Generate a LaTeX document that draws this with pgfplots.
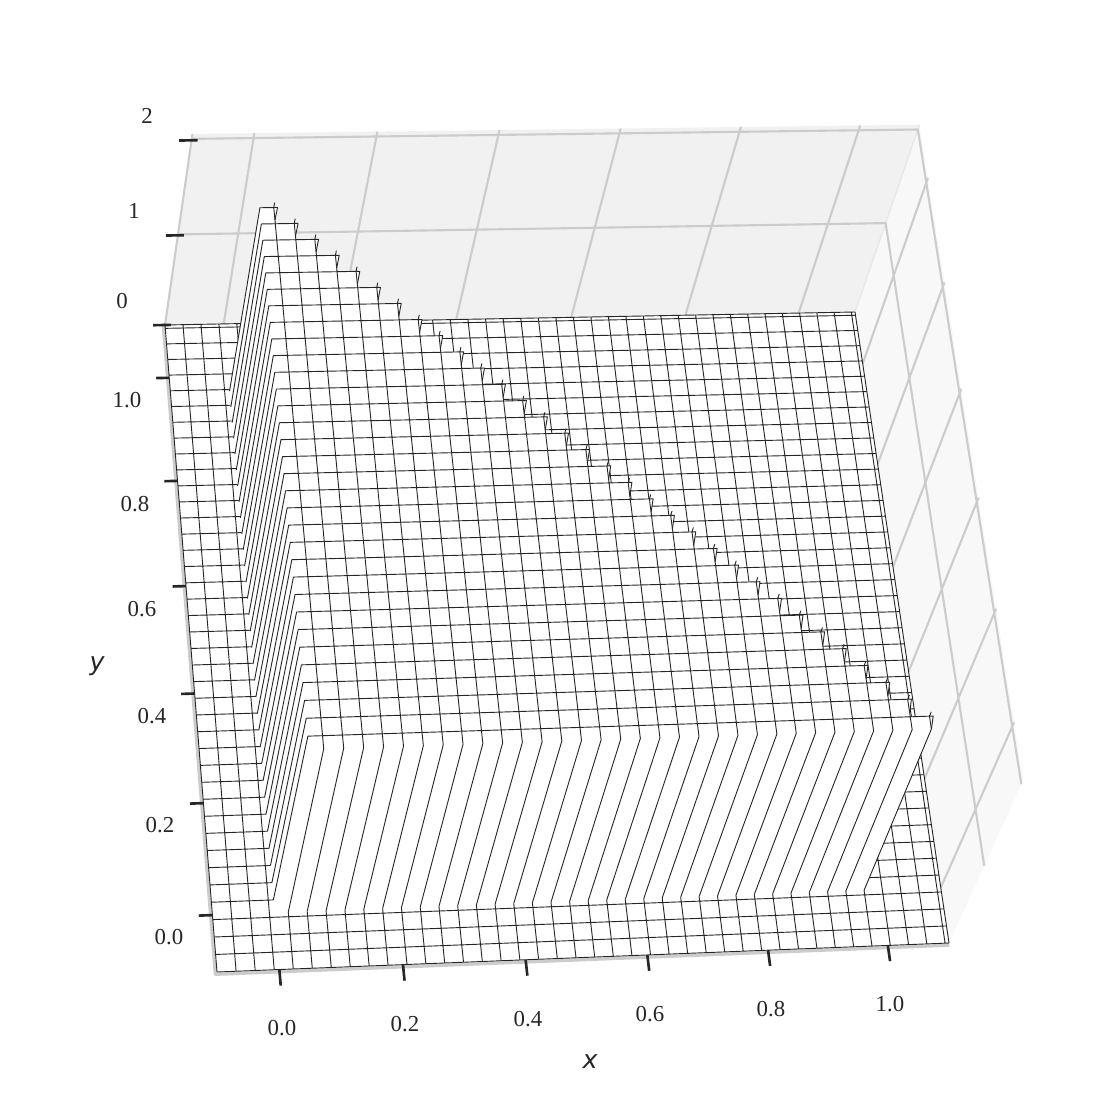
\documentclass[border=0pt]{standalone}
\usepackage{fontspec}
\setmainfont{Liberation Serif}
\newfontfamily\labelfont[ItalicFont=DejaVu Sans Oblique]{DejaVu Sans}
\usepackage{pgfplots}
\usepackage{pgfplotstable}
\pgfplotsset{compat=1.18}

\definecolor{meshc}{HTML}{262626}
\definecolor{gridc}{HTML}{CCCCCC}
\definecolor{paneback}{HTML}{F1F1F1}
\definecolor{paneright}{HTML}{F8F8F8}
\definecolor{paneedge}{HTML}{E8E8E8}

\tikzset{
  ticklab/.style={font=\fontsize{6.5}{7.5}\selectfont, text=meshc, inner sep=0pt},
  axlab/.style={font=\labelfont\itshape\fontsize{7.2}{8.5}\selectfont, text=meshc, inner sep=0pt}
}

% all tables hold x y z of the chart, projection to the page is in proj below
\pgfplotstableread[row sep=\\]{x y z\\
-0.1 1.1 0\\ 1.1 1.1 0\\ 1.1 1.1 2.05\\ -0.1 1.1 2.05\\
}\paneback
\pgfplotstableread[row sep=\\]{x y z\\
1.1 1.1 0\\ 1.1 -0.1 0\\ 1.1 -0.1 2.05\\ 1.1 1.1 2.05\\
}\paneright
\pgfplotstableread[row sep=\\]{x y z\\
1.1 1.1 0\\ 1.1 1.1 2.05\\
}\paneseam
\pgfplotstableread[row sep=\\]{x y z\\
-0.1 1.1 1\\ 1.1 1.1 1\\ 1.1 -0.1 1\\ nan nan nan\\
-0.1 1.1 2\\ 1.1 1.1 2\\ 1.1 -0.1 2\\ nan nan nan\\
0 1.1 0\\ 0 1.1 2.05\\ nan nan nan\\
0.2 1.1 0\\ 0.2 1.1 2.05\\ nan nan nan\\
0.4 1.1 0\\ 0.4 1.1 2.05\\ nan nan nan\\
0.6 1.1 0\\ 0.6 1.1 2.05\\ nan nan nan\\
0.8 1.1 0\\ 0.8 1.1 2.05\\ nan nan nan\\
1 1.1 0\\ 1 1.1 2.05\\ nan nan nan\\
1.1 -0.0003 0\\ 1.1 -0.0003 2.05\\ nan nan nan\\
1.1 0.199 0\\ 1.1 0.199 2.05\\ nan nan nan\\
1.1 0.3983 0\\ 1.1 0.3983 2.05\\ nan nan nan\\
1.1 0.5977 0\\ 1.1 0.5977 2.05\\ nan nan nan\\
1.1 0.797 0\\ 1.1 0.797 2.05\\ nan nan nan\\
1.1 0.9963 0\\ 1.1 0.9963 2.05\\ nan nan nan\\
-0.1 1.1 0\\ -0.1 1.1 2.05\\ nan nan nan\\
}\gridlines
\pgfplotstableread[row sep=\\]{x y z\\
-0.1 -0.1 0\\ 1.1 -0.1 0\\ 1.1 1.1 0\\ -0.1 1.1 0\\
}\floorarea
\pgfplotstableread[row sep=\\]{x y z\\
-0.103 1.1 0\\ -0.103 -0.104 0\\ 1.1 -0.104 0\\
}\flooredge

% floor grid, each value once along x and once along y
\pgfplotstableread[row sep=\\]{x y z\\
-0.1 -0.1 0\\ -0.1 1.1 0\\ nan nan nan\\ -0.1 -0.1 0\\ 1.1 -0.1 0\\ nan nan nan\\
-0.0694 -0.1 0\\ -0.0694 1.1 0\\ nan nan nan\\ -0.1 -0.0694 0\\ 1.1 -0.0694 0\\ nan nan nan\\
-0.0388 -0.1 0\\ -0.0388 1.1 0\\ nan nan nan\\ -0.1 -0.0388 0\\ 1.1 -0.0388 0\\ nan nan nan\\
-0.0082 -0.1 0\\ -0.0082 1.1 0\\ nan nan nan\\ -0.1 -0.0082 0\\ 1.1 -0.0082 0\\ nan nan nan\\
0.0224 -0.1 0\\ 0.0224 1.1 0\\ nan nan nan\\ -0.1 0.0224 0\\ 1.1 0.0224 0\\ nan nan nan\\
0.0530 -0.1 0\\ 0.0530 1.1 0\\ nan nan nan\\ -0.1 0.0530 0\\ 1.1 0.0530 0\\ nan nan nan\\
0.0836 -0.1 0\\ 0.0836 1.1 0\\ nan nan nan\\ -0.1 0.0836 0\\ 1.1 0.0836 0\\ nan nan nan\\
0.1142 -0.1 0\\ 0.1142 1.1 0\\ nan nan nan\\ -0.1 0.1142 0\\ 1.1 0.1142 0\\ nan nan nan\\
0.1448 -0.1 0\\ 0.1448 1.1 0\\ nan nan nan\\ -0.1 0.1448 0\\ 1.1 0.1448 0\\ nan nan nan\\
0.1754 -0.1 0\\ 0.1754 1.1 0\\ nan nan nan\\ -0.1 0.1754 0\\ 1.1 0.1754 0\\ nan nan nan\\
0.2060 -0.1 0\\ 0.2060 1.1 0\\ nan nan nan\\ -0.1 0.2060 0\\ 1.1 0.2060 0\\ nan nan nan\\
0.2366 -0.1 0\\ 0.2366 1.1 0\\ nan nan nan\\ -0.1 0.2366 0\\ 1.1 0.2366 0\\ nan nan nan\\
0.2672 -0.1 0\\ 0.2672 1.1 0\\ nan nan nan\\ -0.1 0.2672 0\\ 1.1 0.2672 0\\ nan nan nan\\
0.2978 -0.1 0\\ 0.2978 1.1 0\\ nan nan nan\\ -0.1 0.2978 0\\ 1.1 0.2978 0\\ nan nan nan\\
0.3284 -0.1 0\\ 0.3284 1.1 0\\ nan nan nan\\ -0.1 0.3284 0\\ 1.1 0.3284 0\\ nan nan nan\\
0.3590 -0.1 0\\ 0.3590 1.1 0\\ nan nan nan\\ -0.1 0.3590 0\\ 1.1 0.3590 0\\ nan nan nan\\
0.3896 -0.1 0\\ 0.3896 1.1 0\\ nan nan nan\\ -0.1 0.3896 0\\ 1.1 0.3896 0\\ nan nan nan\\
0.4202 -0.1 0\\ 0.4202 1.1 0\\ nan nan nan\\ -0.1 0.4202 0\\ 1.1 0.4202 0\\ nan nan nan\\
0.4508 -0.1 0\\ 0.4508 1.1 0\\ nan nan nan\\ -0.1 0.4508 0\\ 1.1 0.4508 0\\ nan nan nan\\
0.4814 -0.1 0\\ 0.4814 1.1 0\\ nan nan nan\\ -0.1 0.4814 0\\ 1.1 0.4814 0\\ nan nan nan\\
0.5120 -0.1 0\\ 0.5120 1.1 0\\ nan nan nan\\ -0.1 0.5120 0\\ 1.1 0.5120 0\\ nan nan nan\\
0.5426 -0.1 0\\ 0.5426 1.1 0\\ nan nan nan\\ -0.1 0.5426 0\\ 1.1 0.5426 0\\ nan nan nan\\
0.5732 -0.1 0\\ 0.5732 1.1 0\\ nan nan nan\\ -0.1 0.5732 0\\ 1.1 0.5732 0\\ nan nan nan\\
0.6038 -0.1 0\\ 0.6038 1.1 0\\ nan nan nan\\ -0.1 0.6038 0\\ 1.1 0.6038 0\\ nan nan nan\\
0.6344 -0.1 0\\ 0.6344 1.1 0\\ nan nan nan\\ -0.1 0.6344 0\\ 1.1 0.6344 0\\ nan nan nan\\
0.6650 -0.1 0\\ 0.6650 1.1 0\\ nan nan nan\\ -0.1 0.6650 0\\ 1.1 0.6650 0\\ nan nan nan\\
0.6956 -0.1 0\\ 0.6956 1.1 0\\ nan nan nan\\ -0.1 0.6956 0\\ 1.1 0.6956 0\\ nan nan nan\\
0.7262 -0.1 0\\ 0.7262 1.1 0\\ nan nan nan\\ -0.1 0.7262 0\\ 1.1 0.7262 0\\ nan nan nan\\
0.7568 -0.1 0\\ 0.7568 1.1 0\\ nan nan nan\\ -0.1 0.7568 0\\ 1.1 0.7568 0\\ nan nan nan\\
0.7874 -0.1 0\\ 0.7874 1.1 0\\ nan nan nan\\ -0.1 0.7874 0\\ 1.1 0.7874 0\\ nan nan nan\\
0.8180 -0.1 0\\ 0.8180 1.1 0\\ nan nan nan\\ -0.1 0.8180 0\\ 1.1 0.8180 0\\ nan nan nan\\
0.8486 -0.1 0\\ 0.8486 1.1 0\\ nan nan nan\\ -0.1 0.8486 0\\ 1.1 0.8486 0\\ nan nan nan\\
0.8792 -0.1 0\\ 0.8792 1.1 0\\ nan nan nan\\ -0.1 0.8792 0\\ 1.1 0.8792 0\\ nan nan nan\\
0.9098 -0.1 0\\ 0.9098 1.1 0\\ nan nan nan\\ -0.1 0.9098 0\\ 1.1 0.9098 0\\ nan nan nan\\
0.9404 -0.1 0\\ 0.9404 1.1 0\\ nan nan nan\\ -0.1 0.9404 0\\ 1.1 0.9404 0\\ nan nan nan\\
0.9710 -0.1 0\\ 0.9710 1.1 0\\ nan nan nan\\ -0.1 0.9710 0\\ 1.1 0.9710 0\\ nan nan nan\\
1.0016 -0.1 0\\ 1.0016 1.1 0\\ nan nan nan\\ -0.1 1.0016 0\\ 1.1 1.0016 0\\ nan nan nan\\
1.0322 -0.1 0\\ 1.0322 1.1 0\\ nan nan nan\\ -0.1 1.0322 0\\ 1.1 1.0322 0\\ nan nan nan\\
1.0628 -0.1 0\\ 1.0628 1.1 0\\ nan nan nan\\ -0.1 1.0628 0\\ 1.1 1.0628 0\\ nan nan nan\\
1.0934 -0.1 0\\ 1.0934 1.1 0\\ nan nan nan\\ -0.1 1.0934 0\\ 1.1 1.0934 0\\ nan nan nan\\
1.1 -0.1 0\\ 1.1 1.1 0\\ nan nan nan\\ -0.1 1.1 0\\ 1.1 1.1 0\\ nan nan nan\\
}\floorgrid

% outline of the raised part at z=2: walls, then the staircase towards the corner
\pgfplotstableread[row sep=\\]{x y z\\
0 0 0\\ 0.9710 0 0\\ 0.9710 0 2\\
0.9710 0 2\\ 0.9770 0.0224 2\\ 0.9710 0.0224 2\\ 0.9404 0.0224 2\\
0.9404 0.0291 2\\ 0.9464 0.0530 2\\ 0.9404 0.0530 2\\ 0.9098 0.0530 2\\
0.9098 0.0597 2\\ 0.9158 0.0836 2\\ 0.9098 0.0836 2\\ 0.8792 0.0836 2\\
0.8792 0.0903 2\\ 0.8852 0.1142 2\\ 0.8792 0.1142 2\\ 0.8486 0.1142 2\\
0.8486 0.1209 2\\ 0.8546 0.1448 2\\ 0.8486 0.1448 2\\ 0.8180 0.1448 2\\
0.8180 0.1515 2\\ 0.8240 0.1754 2\\ 0.8180 0.1754 2\\ 0.7874 0.1754 2\\
0.7874 0.1821 2\\ 0.7934 0.2060 2\\ 0.7874 0.2060 2\\ 0.7568 0.2060 2\\
0.7568 0.2127 2\\ 0.7628 0.2366 2\\ 0.7568 0.2366 2\\ 0.7262 0.2366 2\\
0.7262 0.2433 2\\ 0.7322 0.2672 2\\ 0.7262 0.2672 2\\ 0.6956 0.2672 2\\
0.6956 0.2739 2\\ 0.7016 0.2978 2\\ 0.6956 0.2978 2\\ 0.6650 0.2978 2\\
0.6650 0.3045 2\\ 0.6710 0.3284 2\\ 0.6650 0.3284 2\\ 0.6344 0.3284 2\\
0.6344 0.3351 2\\ 0.6404 0.3590 2\\ 0.6344 0.3590 2\\ 0.6038 0.3590 2\\
0.6038 0.3657 2\\ 0.6098 0.3896 2\\ 0.6038 0.3896 2\\ 0.5732 0.3896 2\\
0.5732 0.3963 2\\ 0.5792 0.4202 2\\ 0.5732 0.4202 2\\ 0.5426 0.4202 2\\
0.5426 0.4269 2\\ 0.5486 0.4508 2\\ 0.5426 0.4508 2\\ 0.5120 0.4508 2\\
0.5120 0.4575 2\\ 0.5180 0.4814 2\\ 0.5120 0.4814 2\\ 0.4814 0.4814 2\\
0.4814 0.4881 2\\ 0.4874 0.5120 2\\ 0.4814 0.5120 2\\ 0.4508 0.5120 2\\
0.4508 0.5187 2\\ 0.4568 0.5426 2\\ 0.4508 0.5426 2\\ 0.4202 0.5426 2\\
0.4202 0.5493 2\\ 0.4262 0.5732 2\\ 0.4202 0.5732 2\\ 0.3896 0.5732 2\\
0.3896 0.5799 2\\ 0.3956 0.6038 2\\ 0.3896 0.6038 2\\ 0.3590 0.6038 2\\
0.3590 0.6105 2\\ 0.3650 0.6344 2\\ 0.3590 0.6344 2\\ 0.3284 0.6344 2\\
0.3284 0.6411 2\\ 0.3344 0.6650 2\\ 0.3284 0.6650 2\\ 0.2978 0.6650 2\\
0.2978 0.6717 2\\ 0.3038 0.6956 2\\ 0.2978 0.6956 2\\ 0.2672 0.6956 2\\
0.2672 0.7023 2\\ 0.2732 0.7262 2\\ 0.2672 0.7262 2\\ 0.2366 0.7262 2\\
0.2366 0.7329 2\\ 0.2426 0.7568 2\\ 0.2366 0.7568 2\\ 0.2060 0.7568 2\\
0.2060 0.7635 2\\ 0.2120 0.7874 2\\ 0.2060 0.7874 2\\ 0.1754 0.7874 2\\
0.1754 0.7941 2\\ 0.1814 0.8180 2\\ 0.1754 0.8180 2\\ 0.1448 0.8180 2\\
0.1448 0.8247 2\\ 0.1508 0.8486 2\\ 0.1448 0.8486 2\\ 0.1142 0.8486 2\\
0.1142 0.8553 2\\ 0.1202 0.8792 2\\ 0.1142 0.8792 2\\ 0.0836 0.8792 2\\
0.0836 0.8859 2\\ 0.0896 0.9098 2\\ 0.0836 0.9098 2\\ 0.0530 0.9098 2\\
0.0530 0.9165 2\\ 0.0590 0.9404 2\\ 0.0530 0.9404 2\\ 0.0224 0.9404 2\\
0.0224 0.9471 2\\ 0.0284 0.9710 2\\ 0.0224 0.9710 2\\ 0 0.9710 2\\
0 0.9710 0\\
}\raised

% mesh lines of the raised part: up the front wall, along the top, back and down the left wall
\pgfplotstableread[row sep=\\]{x y z\\
0.0224 0 0\\ 0.0224 0 2\\ 0.0224 0.9710 2\\ 0 0.9710 2\\ 0 0.9710 0\\ nan nan nan\\
0.0530 0 0\\ 0.0530 0 2\\ 0.0530 0.9404 2\\ 0 0.9404 2\\ 0 0.9404 0\\ nan nan nan\\
0.0836 0 0\\ 0.0836 0 2\\ 0.0836 0.9098 2\\ 0 0.9098 2\\ 0 0.9098 0\\ nan nan nan\\
0.1142 0 0\\ 0.1142 0 2\\ 0.1142 0.8792 2\\ 0 0.8792 2\\ 0 0.8792 0\\ nan nan nan\\
0.1448 0 0\\ 0.1448 0 2\\ 0.1448 0.8486 2\\ 0 0.8486 2\\ 0 0.8486 0\\ nan nan nan\\
0.1754 0 0\\ 0.1754 0 2\\ 0.1754 0.8180 2\\ 0 0.8180 2\\ 0 0.8180 0\\ nan nan nan\\
0.2060 0 0\\ 0.2060 0 2\\ 0.2060 0.7874 2\\ 0 0.7874 2\\ 0 0.7874 0\\ nan nan nan\\
0.2366 0 0\\ 0.2366 0 2\\ 0.2366 0.7568 2\\ 0 0.7568 2\\ 0 0.7568 0\\ nan nan nan\\
0.2672 0 0\\ 0.2672 0 2\\ 0.2672 0.7262 2\\ 0 0.7262 2\\ 0 0.7262 0\\ nan nan nan\\
0.2978 0 0\\ 0.2978 0 2\\ 0.2978 0.6956 2\\ 0 0.6956 2\\ 0 0.6956 0\\ nan nan nan\\
0.3284 0 0\\ 0.3284 0 2\\ 0.3284 0.6650 2\\ 0 0.6650 2\\ 0 0.6650 0\\ nan nan nan\\
0.3590 0 0\\ 0.3590 0 2\\ 0.3590 0.6344 2\\ 0 0.6344 2\\ 0 0.6344 0\\ nan nan nan\\
0.3896 0 0\\ 0.3896 0 2\\ 0.3896 0.6038 2\\ 0 0.6038 2\\ 0 0.6038 0\\ nan nan nan\\
0.4202 0 0\\ 0.4202 0 2\\ 0.4202 0.5732 2\\ 0 0.5732 2\\ 0 0.5732 0\\ nan nan nan\\
0.4508 0 0\\ 0.4508 0 2\\ 0.4508 0.5426 2\\ 0 0.5426 2\\ 0 0.5426 0\\ nan nan nan\\
0.4814 0 0\\ 0.4814 0 2\\ 0.4814 0.5120 2\\ 0 0.5120 2\\ 0 0.5120 0\\ nan nan nan\\
0.5120 0 0\\ 0.5120 0 2\\ 0.5120 0.4814 2\\ 0 0.4814 2\\ 0 0.4814 0\\ nan nan nan\\
0.5426 0 0\\ 0.5426 0 2\\ 0.5426 0.4508 2\\ 0 0.4508 2\\ 0 0.4508 0\\ nan nan nan\\
0.5732 0 0\\ 0.5732 0 2\\ 0.5732 0.4202 2\\ 0 0.4202 2\\ 0 0.4202 0\\ nan nan nan\\
0.6038 0 0\\ 0.6038 0 2\\ 0.6038 0.3896 2\\ 0 0.3896 2\\ 0 0.3896 0\\ nan nan nan\\
0.6344 0 0\\ 0.6344 0 2\\ 0.6344 0.3590 2\\ 0 0.3590 2\\ 0 0.3590 0\\ nan nan nan\\
0.6650 0 0\\ 0.6650 0 2\\ 0.6650 0.3284 2\\ 0 0.3284 2\\ 0 0.3284 0\\ nan nan nan\\
0.6956 0 0\\ 0.6956 0 2\\ 0.6956 0.2978 2\\ 0 0.2978 2\\ 0 0.2978 0\\ nan nan nan\\
0.7262 0 0\\ 0.7262 0 2\\ 0.7262 0.2672 2\\ 0 0.2672 2\\ 0 0.2672 0\\ nan nan nan\\
0.7568 0 0\\ 0.7568 0 2\\ 0.7568 0.2366 2\\ 0 0.2366 2\\ 0 0.2366 0\\ nan nan nan\\
0.7874 0 0\\ 0.7874 0 2\\ 0.7874 0.2060 2\\ 0 0.2060 2\\ 0 0.2060 0\\ nan nan nan\\
0.8180 0 0\\ 0.8180 0 2\\ 0.8180 0.1754 2\\ 0 0.1754 2\\ 0 0.1754 0\\ nan nan nan\\
0.8486 0 0\\ 0.8486 0 2\\ 0.8486 0.1448 2\\ 0 0.1448 2\\ 0 0.1448 0\\ nan nan nan\\
0.8792 0 0\\ 0.8792 0 2\\ 0.8792 0.1142 2\\ 0 0.1142 2\\ 0 0.1142 0\\ nan nan nan\\
0.9098 0 0\\ 0.9098 0 2\\ 0.9098 0.0836 2\\ 0 0.0836 2\\ 0 0.0836 0\\ nan nan nan\\
0.9404 0 0\\ 0.9404 0 2\\ 0.9404 0.0530 2\\ 0 0.0530 2\\ 0 0.0530 0\\ nan nan nan\\
0.9710 0 0\\ 0.9710 0 2\\ 0.9710 0.0224 2\\ 0 0.0224 2\\ 0 0.0224 0\\ nan nan nan\\
}\raisedmesh

% small spikes at the stair corners
\pgfplotstableread[row sep=\\]{x y z\\
0.0224 0.9710 2.05\\ 0.0224 0.9710 2\\ 0.0284 0.9710 2\\ 0.0224 0.9471 2\\ nan nan nan\\
0.0530 0.9404 2.05\\ 0.0530 0.9404 2\\ 0.0590 0.9404 2\\ 0.0530 0.9165 2\\ nan nan nan\\
0.0836 0.9098 2.05\\ 0.0836 0.9098 2\\ 0.0896 0.9098 2\\ 0.0836 0.8859 2\\ nan nan nan\\
0.1142 0.8792 2.05\\ 0.1142 0.8792 2\\ 0.1202 0.8792 2\\ 0.1142 0.8553 2\\ nan nan nan\\
0.1448 0.8486 2.05\\ 0.1448 0.8486 2\\ 0.1508 0.8486 2\\ 0.1448 0.8247 2\\ nan nan nan\\
0.1754 0.8180 2.05\\ 0.1754 0.8180 2\\ 0.1814 0.8180 2\\ 0.1754 0.7941 2\\ nan nan nan\\
0.2060 0.7874 2.05\\ 0.2060 0.7874 2\\ 0.2120 0.7874 2\\ 0.2060 0.7635 2\\ nan nan nan\\
0.2366 0.7568 2.05\\ 0.2366 0.7568 2\\ 0.2426 0.7568 2\\ 0.2366 0.7329 2\\ nan nan nan\\
0.2672 0.7262 2.05\\ 0.2672 0.7262 2\\ 0.2732 0.7262 2\\ 0.2672 0.7023 2\\ nan nan nan\\
0.2978 0.6956 2.05\\ 0.2978 0.6956 2\\ 0.3038 0.6956 2\\ 0.2978 0.6717 2\\ nan nan nan\\
0.3284 0.6650 2.05\\ 0.3284 0.6650 2\\ 0.3344 0.6650 2\\ 0.3284 0.6411 2\\ nan nan nan\\
0.3590 0.6344 2.05\\ 0.3590 0.6344 2\\ 0.3650 0.6344 2\\ 0.3590 0.6105 2\\ nan nan nan\\
0.3896 0.6038 2.05\\ 0.3896 0.6038 2\\ 0.3956 0.6038 2\\ 0.3896 0.5799 2\\ nan nan nan\\
0.4202 0.5732 2.05\\ 0.4202 0.5732 2\\ 0.4262 0.5732 2\\ 0.4202 0.5493 2\\ nan nan nan\\
0.4508 0.5426 2.05\\ 0.4508 0.5426 2\\ 0.4568 0.5426 2\\ 0.4508 0.5187 2\\ nan nan nan\\
0.4814 0.5120 2.05\\ 0.4814 0.5120 2\\ 0.4874 0.5120 2\\ 0.4814 0.4881 2\\ nan nan nan\\
0.5120 0.4814 2.05\\ 0.5120 0.4814 2\\ 0.5180 0.4814 2\\ 0.5120 0.4575 2\\ nan nan nan\\
0.5426 0.4508 2.05\\ 0.5426 0.4508 2\\ 0.5486 0.4508 2\\ 0.5426 0.4269 2\\ nan nan nan\\
0.5732 0.4202 2.05\\ 0.5732 0.4202 2\\ 0.5792 0.4202 2\\ 0.5732 0.3963 2\\ nan nan nan\\
0.6038 0.3896 2.05\\ 0.6038 0.3896 2\\ 0.6098 0.3896 2\\ 0.6038 0.3657 2\\ nan nan nan\\
0.6344 0.3590 2.05\\ 0.6344 0.3590 2\\ 0.6404 0.3590 2\\ 0.6344 0.3351 2\\ nan nan nan\\
0.6650 0.3284 2.05\\ 0.6650 0.3284 2\\ 0.6710 0.3284 2\\ 0.6650 0.3045 2\\ nan nan nan\\
0.6956 0.2978 2.05\\ 0.6956 0.2978 2\\ 0.7016 0.2978 2\\ 0.6956 0.2739 2\\ nan nan nan\\
0.7262 0.2672 2.05\\ 0.7262 0.2672 2\\ 0.7322 0.2672 2\\ 0.7262 0.2433 2\\ nan nan nan\\
0.7568 0.2366 2.05\\ 0.7568 0.2366 2\\ 0.7628 0.2366 2\\ 0.7568 0.2127 2\\ nan nan nan\\
0.7874 0.2060 2.05\\ 0.7874 0.2060 2\\ 0.7934 0.2060 2\\ 0.7874 0.1821 2\\ nan nan nan\\
0.8180 0.1754 2.05\\ 0.8180 0.1754 2\\ 0.8240 0.1754 2\\ 0.8180 0.1515 2\\ nan nan nan\\
0.8486 0.1448 2.05\\ 0.8486 0.1448 2\\ 0.8546 0.1448 2\\ 0.8486 0.1209 2\\ nan nan nan\\
0.8792 0.1142 2.05\\ 0.8792 0.1142 2\\ 0.8852 0.1142 2\\ 0.8792 0.0903 2\\ nan nan nan\\
0.9098 0.0836 2.05\\ 0.9098 0.0836 2\\ 0.9158 0.0836 2\\ 0.9098 0.0597 2\\ nan nan nan\\
0.9404 0.0530 2.05\\ 0.9404 0.0530 2\\ 0.9464 0.0530 2\\ 0.9404 0.0291 2\\ nan nan nan\\
0.9710 0.0224 2.05\\ 0.9710 0.0224 2\\ 0.9770 0.0224 2\\ 0.9710 0 2\\ nan nan nan\\
}\spikes

% tick marks, nudged onto the spots of the reference
\pgfplotstableread[row sep=\\]{x y z\\
0 -0.1 0\\ 0 -0.128 0\\ nan nan nan\\
0.1995 -0.1 0\\ 0.1995 -0.128 0\\ nan nan nan\\
0.399 -0.1 0\\ 0.399 -0.128 0\\ nan nan nan\\
0.5985 -0.1 0\\ 0.5985 -0.128 0\\ nan nan nan\\
0.798 -0.1 0\\ 0.798 -0.128 0\\ nan nan nan\\
0.9975 -0.1 0\\ 0.9975 -0.128 0\\ nan nan nan\\
-0.1 -0.0003 0\\ -0.122 -0.0003 0\\ nan nan nan\\
-0.1 0.199 0\\ -0.122 0.199 0\\ nan nan nan\\
-0.1 0.3983 0\\ -0.122 0.3983 0\\ nan nan nan\\
-0.1 0.5977 0\\ -0.122 0.5977 0\\ nan nan nan\\
-0.1 0.797 0\\ -0.122 0.797 0\\ nan nan nan\\
-0.1 0.9963 0\\ -0.122 0.9963 0\\ nan nan nan\\
-0.12 1.1 0\\ -0.09 1.1 0\\ nan nan nan\\
-0.12 1.1 0.99\\ -0.09 1.1 0.99\\ nan nan nan\\
-0.12 1.1 1.985\\ -0.09 1.1 1.985\\ nan nan nan\\
}\tickmarks

% perspective of the reference, fitted on the corners of the box (page pixels)
\pgfkeys{/pgfplots/table/proj/.style={
  x expr={PX(\thisrow{x},\thisrow{y},\thisrow{z})},
  y expr={PY(\thisrow{x},\thisrow{y},\thisrow{z})}
}}
% same for the raised part, its rows sit a little nearer in the reference
\pgfkeys{/pgfplots/table/projr/.style={
  x expr={PX(\thisrow{x},0.9967*\thisrow{y},\thisrow{z})},
  y expr={PY(\thisrow{x},0.9967*\thisrow{y},\thisrow{z})}
}}

\begin{document}
\begin{tikzpicture}[
    declare function={
      PW(\a,\b,\c)=1+0.024035*(\a+0.1)/1.2+0.064143*(\b+0.1)/1.2-0.055*\c/2;
      PX(\a,\b,\c)=(217+754.81*(\a+0.1)/1.2-41.42*(\b+0.1)/1.2+17.9*\c/2)/PW(\a,\b,\c);
      PY(\a,\b,\c)=(972-6.33*(\a+0.1)/1.2-626.15*(\b+0.1)/1.2-205.7*\c/2)/PW(\a,\b,\c);
    }]
\begin{axis}[
    scale only axis,
    width=11.17cm,
    height=11.18cm,
    xmin=0, xmax=1117,
    ymin=0, ymax=1118,
    y dir=reverse,
    hide axis,
    clip=false,
    unbounded coords=jump,
    no markers,
    every axis plot post/.append style={line join=round}
]
% keeps the page at the full size, a hidden axis does not count
\path (axis cs:0,0) rectangle (axis cs:1117,1118);

% panes
\addplot[fill=paneback, draw=none] table[proj] {\paneback} --cycle;
\addplot[fill=paneright, draw=none] table[proj] {\paneright} --cycle;
\addplot[paneedge, line width=0.4pt] table[proj] {\paneseam};
\addplot[gridc, line width=0.6pt] table[proj] {\gridlines};
\addplot[fill=white, draw=none] table[proj] {\floorarea} --cycle;
\addplot[gridc, line width=0.9pt] table[proj] {\flooredge};

% floor mesh, the raised part covers what lies under it
\addplot[meshc, line width=0.26pt] table[proj] {\floorgrid};
\addplot[fill=white, draw=none] table[projr] {\raised} --cycle;
\addplot[meshc, line width=0.26pt] table[projr] {\raisedmesh};
\addplot[meshc, line width=0.26pt] table[projr] {\spikes};

\addplot[meshc, line width=0.75pt] table[proj] {\tickmarks};

% tick labels
\node[ticklab] at (axis cs:147,116) {2};
\node[ticklab] at (axis cs:134,211) {1};
\node[ticklab] at (axis cs:122,301) {0};
\node[ticklab] at (axis cs:127,400) {1.0};
\node[ticklab] at (axis cs:135,504) {0.8};
\node[ticklab] at (axis cs:142,609) {0.6};
\node[ticklab] at (axis cs:152,716) {0.4};
\node[ticklab] at (axis cs:160,825) {0.2};
\node[ticklab] at (axis cs:169,937) {0.0};
\node[ticklab] at (axis cs:282,1028) {0.0};
\node[ticklab] at (axis cs:405,1024) {0.2};
\node[ticklab] at (axis cs:528,1019) {0.4};
\node[ticklab] at (axis cs:650,1014) {0.6};
\node[ticklab] at (axis cs:771,1009) {0.8};
\node[ticklab] at (axis cs:890,1004) {1.0};
\node[axlab] at (axis cs:590,1062) {x};
\node[axlab] at (axis cs:97,666) {y};
\end{axis}
\end{tikzpicture}
\end{document}
